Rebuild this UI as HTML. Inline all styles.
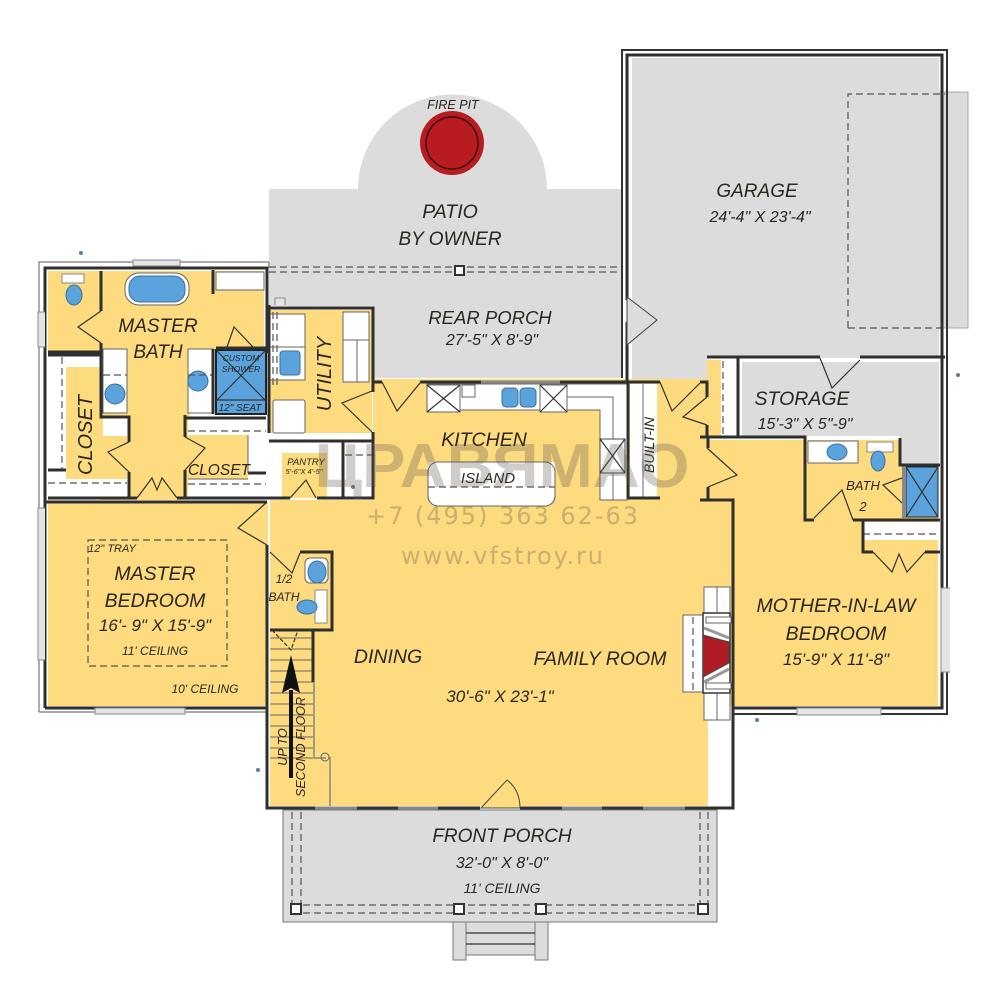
<!DOCTYPE html>
<html><head><meta charset="utf-8"><style>
html,body{margin:0;padding:0;background:#fff}
svg{display:block}
text{font-family:"Liberation Sans",sans-serif;font-style:italic;fill:#2a2620;text-anchor:middle}
.w{fill:none;stroke:#2f2f2f;stroke-width:3}
.t{fill:none;stroke:#333;stroke-width:1.2}
.g{fill:none;stroke:#666;stroke-width:1}
.d{fill:none;stroke:#555;stroke-width:1.2;stroke-dasharray:7 4}
.win{fill:#e4e4e4;stroke:#888;stroke-width:1}
.wh{fill:#fff;stroke:#666;stroke-width:1}
.b{fill:#5ba3dc;stroke:#3d6f9c;stroke-width:1}
.dr{fill:#fddb7e;stroke:#444;stroke-width:1}
</style></head><body>
<svg width="1004" height="1000" viewBox="0 0 1004 1000" xmlns="http://www.w3.org/2000/svg">
<rect width="1004" height="1000" fill="#fff"/>
<!-- gray areas -->
<path d="M269 189H358A94.5 94.5 0 0 1 547 189H622V378H373V306H269Z" fill="#dcdcdc"/>
<rect x="848" y="92" width="120" height="236" fill="#dcdcdc" stroke="#aaa"/>
<rect x="632" y="58" width="307" height="300" fill="#dcdcdc"/>
<rect x="632" y="58" width="75" height="322" fill="#dcdcdc"/>
<path d="M848 328V94H945M848 328H945" class="d"/>
<path d="M742 362H939V465H900V436H742Z" fill="#dcdcdc"/>
<rect x="283" y="810" width="434" height="112" fill="#dcdcdc" stroke="#777"/>
<rect x="453" y="922" width="13" height="38" fill="#dcdcdc" stroke="#777"/>
<rect x="535" y="922" width="13" height="38" fill="#dcdcdc" stroke="#777"/>
<path d="M466 922H535V955H466Z" fill="#dcdcdc" stroke="#777"/>
<path d="M466 933H535M466 944H535" class="t"/>
<!-- yellow areas -->
<g fill="#fddb7e">
<rect x="48" y="271" width="216" height="80"/>
<rect x="100" y="300" width="90" height="200"/>
<rect x="48" y="502" width="220" height="204"/>
<rect x="270" y="310" width="102" height="123"/>
<rect x="270" y="500" width="460" height="220"/>
<rect x="270" y="720" width="438" height="86"/>
<rect x="373" y="379" width="334" height="125"/>
<rect x="706" y="440" width="194" height="266"/>
<rect x="735" y="500" width="203" height="206"/>
<rect x="808" y="463" width="94" height="55"/>
<rect x="707" y="360" width="14" height="77"/>
</g>
<!-- whites -->
<rect x="216" y="272" width="48" height="18" class="wh"/>
<rect x="48" y="356" width="52" height="142" fill="#fff"/>
<rect x="100" y="418" width="29" height="80" fill="#fff"/>
<path d="M66 367H100V417H127V479H66Z" fill="#fddb7e"/>
<rect x="103" y="349" width="24" height="64" class="wh"/>
<rect x="188" y="349" width="25" height="64" class="wh"/>
<rect x="103" y="418" width="25" height="18" fill="#fff"/>
<rect x="188" y="420" width="78" height="78" fill="#fff"/>
<rect x="188" y="435" width="60" height="44" fill="#fddb7e"/>
<path d="M129 442L108 452 129 472Z" fill="#fddb7e"/>
<rect x="270" y="441" width="103" height="57" fill="#fff"/>
<rect x="282" y="453" width="45" height="45" fill="#fddb7e"/>
<rect x="721" y="361" width="16" height="75" fill="#fff"/>
<path d="M427 384H627V500H600V410H427Z" class="wh"/>
<rect x="630" y="384" width="27" height="113" fill="#fff"/>
<rect x="708" y="720" width="24" height="86" fill="#fff"/>
<rect x="428" y="462" width="127" height="44" rx="10" fill="#fff" stroke="#666"/>
<rect x="428" y="462" width="127" height="16" fill="#fff" stroke="none"/>
<rect x="808" y="441" width="50" height="22" class="wh"/>
<rect x="863" y="522" width="75" height="18" fill="#fff"/>
<rect x="683" y="615" width="20" height="77" class="wh"/>
<rect x="704" y="587" width="26" height="26" class="wh"/>
<rect x="704" y="693" width="26" height="27" class="wh"/>
<rect x="703" y="613" width="27" height="80" fill="#fff" stroke="#333" stroke-width="1.5"/>
<rect x="706" y="617" width="25" height="6" class="wh" stroke="#333"/>
<rect x="706" y="683" width="25" height="6" class="wh" stroke="#333"/>
<path d="M703 635L729 642V663L703 677Z" fill="#b01c24" stroke="#444"/>
<path d="M704 628L729 638M704 682L729 669" stroke="#999" stroke-width="3" fill="none"/>
<path d="M717 587V613M717 693V720" class="g"/>
<path d="M693 617V690" class="d"/>
<rect x="270" y="314" width="35" height="33" class="wh"/>
<rect x="270" y="347" width="35" height="33" class="wh"/>
<rect x="280" y="351" width="20" height="24" rx="3" class="b"/>
<rect x="273" y="400" width="32" height="33" rx="2" class="wh"/>
<rect x="343" y="312" width="26" height="70" class="wh"/>
<path d="M343 340H369M357 340V382" class="g"/>
<path d="M273 312V386M277 312V386" class="d"/>
<!-- fixtures -->
<rect x="125" y="273" width="64" height="32" rx="14" class="wh"/>
<rect x="129" y="276" width="56" height="26" rx="11" class="b"/>
<rect x="62" y="274" width="22" height="9" fill="#fff" stroke="#888"/>
<ellipse cx="74" cy="295" rx="8" ry="10" class="b"/>
<circle cx="115" cy="394" r="10" class="b"/><circle cx="198" cy="381" r="10" class="b"/>
<path d="M103 375H127M188 375H212" class="d"/>
<rect x="216" y="350" width="50" height="64" fill="#5ba3dc" stroke="#222" stroke-width="2"/>
<path d="M217 351L265 400M265 351L217 400M216 400H266" class="t"/>
<rect x="502" y="388" width="16" height="19" rx="4" class="b"/><rect x="520" y="388" width="16" height="19" rx="4" class="b"/>
<rect x="427" y="385" width="33" height="27" class="wh"/><path d="M427 385L460 412M460 385L427 412" class="t"/>
<rect x="540" y="385" width="27" height="27" class="wh"/><path d="M540 385L567 412M567 385L540 412" class="t"/>
<rect x="462" y="385" width="13" height="12" class="wh"/>
<path d="M567 397H613V500" class="g"/>
<rect x="600" y="439" width="25" height="34" fill="#fff" stroke="#444"/><path d="M600 439L625 473M625 439L600 473" class="t"/>
<path d="M643 384V497" class="g"/>
<rect x="428" y="462" width="127" height="44" rx="10" fill="none" stroke="#666"/>
<path d="M428 487H555" class="d" stroke-width="1.5"/>
<path d="M62 357V470M48 483H127M188 431H266M188 484H266M345 455H372" class="d"/>
<circle cx="353" cy="487" r="2" fill="#5a7f9c"/>
<path d="M48 470H66M248 473H266" class="w"/>
<path d="M248 435V473M248 479H188" class="g"/>
<ellipse cx="837" cy="452" rx="10" ry="8" class="b"/>
<rect x="867" y="442" width="26" height="10" fill="#fff" stroke="#888"/>
<ellipse cx="878" cy="461" rx="7" ry="10" class="b"/>
<rect x="906" y="467" width="32" height="50" fill="#5ba3dc" stroke="#222"/>
<path d="M906 467L938 517M938 467L906 517" class="t"/>
<rect x="902" y="466" width="4" height="52" fill="#888"/>
<path d="M863 534H938M723 361V436" class="d"/>
<rect x="305" y="558" width="23" height="25" rx="5" class="wh"/>
<ellipse cx="317" cy="572" rx="9" ry="11" class="b"/>
<rect x="315" y="590" width="12" height="33" fill="#fff" stroke="#888"/>
<ellipse cx="307" cy="607" rx="10" ry="7" class="b"/>
<!-- fire pit -->
<circle cx="452" cy="143" r="32" fill="#b81c20"/>
<circle cx="452" cy="143" r="26" fill="#b81c20" stroke="#3a1010" stroke-width="1.5"/>
<!-- stairs -->
<path d="M270 638H313M270 649H313M270 660H313M270 671H313M270 682H313M270 693H313M270 704H313M270 715H313M270 726H313M270 737H313M270 748H313M270 758H313" class="g"/>
<path d="M314 682V758H326M330 757V806" stroke="#7d8a7d" stroke-width="1.5" fill="none"/>
<circle cx="325" cy="757" r="4" fill="none" stroke="#666"/>
<path d="M291 778V690" stroke="#111" stroke-width="4"/>
<path d="M291 655L300 693 291 688 282 693Z" fill="#111"/>
<path d="M272 630L291 650 298 630" class="t" stroke-dasharray="4 2"/>
<!-- dashed -->
<path d="M269 267H622M269 272H622" class="d"/>
<path d="M292 812V905M301 812V905M700 812V905M708 812V905M292 905H708M292 913H708" class="d"/>
<g fill="#fff" stroke="#333" stroke-width="2">
<rect x="291" y="904" width="10" height="10"/><rect x="454" y="904" width="10" height="10"/><rect x="536" y="904" width="10" height="10"/><rect x="698" y="904" width="10" height="10"/>
<rect x="455" y="266" width="9" height="9"/>
</g>
<rect x="88" y="540" width="139" height="126" class="d"/>
<!-- outer walls -->
<path d="M39 712V262H269M269 262V268M39 712H268" fill="none" stroke="#777" stroke-width="1.2"/>
<path d="M45 708V268H267V353M45 708H267V545M267 502H45" class="w"/>
<path d="M622 378V50H947V714H733" fill="none" stroke="#333" stroke-width="2"/>
<path d="M627 300V55H942V708H733" class="w"/>
<path d="M627 322V382" class="w"/>
<path d="M267 545V808H315M357 808H398M438 808H480M520 808H562M602 808H643M685 808H733V500H700" class="w"/>
<path d="M269 308H373V392M373 432V441H269M269 305V433" class="w"/>
<path d="M373 378V392M382 382H373M420 382H481M560 382H660M700 382H707V397M707 425V437M700 437H805V520H814M853 520H940M863 520V552H873M925 552H940M708 448V437M708 487V500" class="w"/>
<path d="M707 357H820M860 357H945M738 357V436M900 438V465H940" class="w"/>
<path d="M628 382V498M627 498H660" class="w"/>
<path d="M101 271V311M101 343V417H129V442M129 472V498M48 352H101M48 355H100M213 270V294M213 349V414M216 348H266M185 415V437M185 470V498M185 418H266M48 498H137M177 498H290M317 498H373V441M343 441V498M313 630V682M270 630H332V552H300" class="w"/>
<path d="M45 312H38V347H45M45 508H38V660H45M950 588H941V672H950" class="win"/>
<path d="M133 266V260H180V266Z M797 708V715H881V708Z M95 708V714H185V708Z M285 305V298H275V305" class="win"/>
<path d="M315 808H357M398 808H438M562 808H602M643 808H685M481 382H560" stroke="#888" stroke-width="3" fill="none"/>
<!-- doors -->
<path d="M627 297L657 320 627 345Z" fill="#dcdcdc" stroke="#444"/>
<path d="M481 808L507 780Q520 790 520 808Z" class="dr"/>
<g class="t">
<path d="M101 311L78 327 101 343M137 498L152 478 157 490 162 478 177 498M129 442L108 452 129 472M185 437L205 448 185 470M227 347L234 327 253 347M290 498L306 480 316 498M372 391L342 403 372 432M382 382L397 411 420 383M660 382L672 411 700 383M707 397L683 417 707 425M707 448L737 475 708 487M820 358L832 388 860 360M902 478L883 485 902 503M814 518L842 490 853 520M873 552L892 572 899 554 907 572 925 552M270 552L292 573 300 553M267 502L238 528 267 545"/>
</g>
<!-- utility circles -->
<g fill="#5a7f9c"><circle cx="81" cy="253" r="2"/><circle cx="958" cy="375" r="2"/><circle cx="757" cy="720" r="2"/><circle cx="258" cy="770" r="2"/></g>
<!-- labels -->
<g>
<text x="453" y="109" font-size="12.5">FIRE PIT</text>
<text x="450" y="218" font-size="19.5">PATIO</text>
<text x="450" y="245" font-size="19">BY OWNER</text>
<text x="757" y="197" font-size="19">GARAGE</text>
<text x="760" y="222" font-size="16">24'-4" X 23'-4"</text>
<text x="490" y="324" font-size="18.5">REAR PORCH</text>
<text x="492" y="345" font-size="16">27'-5" X 8'-9"</text>
<text x="158" y="332" font-size="19">MASTER</text>
<text x="158" y="358" font-size="19">BATH</text>
<text x="241" y="361" font-size="8.5">CUSTOM</text>
<text x="241" y="372" font-size="8.5">SHOWER</text>
<text x="240" y="411" font-size="10">12" SEAT</text>
<text transform="translate(92,435) rotate(-90)" font-size="20">CLOSET</text>
<text x="219" y="475" font-size="15.5">CLOSET</text>
<text transform="translate(331,374) rotate(-90)" font-size="20">UTILITY</text>
<text x="306" y="465" font-size="9.5">PANTRY</text>
<text x="304" y="474" font-size="7.5">5'-6"X 4'-5"</text>
<text x="484" y="446" font-size="19.5">KITCHEN</text>
<text x="488" y="483" font-size="15">ISLAND</text>
<text transform="translate(654,445) rotate(-90)" font-size="14">BUILT-IN</text>
<text x="802" y="405" font-size="19.5">STORAGE</text>
<text x="805" y="429" font-size="16">15'-3" X 5"-9"</text>
<text x="863" y="490" font-size="13">BATH</text>
<text x="863" y="511" font-size="13">2</text>
<text x="836" y="612" font-size="19.5">MOTHER-IN-LAW</text>
<text x="836" y="640" font-size="19.5">BEDROOM</text>
<text x="836" y="665" font-size="17">15'-9" X 11'-8"</text>
<text x="155" y="580" font-size="19.5">MASTER</text>
<text x="155" y="607" font-size="19.5">BEDROOM</text>
<text x="155" y="631" font-size="17">16'- 9" X 15'-9"</text>
<text x="112" y="552" font-size="11">12" TRAY</text>
<text x="155" y="655" font-size="12">11' CEILING</text>
<text x="205" y="693" font-size="12">10' CEILING</text>
<text x="388" y="663" font-size="19.5">DINING</text>
<text x="600" y="665" font-size="19.5">FAMILY ROOM</text>
<text x="500" y="702" font-size="17">30'-6" X 23'-1"</text>
<text x="284" y="583" font-size="12">1/2</text>
<text x="284" y="601" font-size="12">BATH</text>
<text transform="translate(287,747) rotate(-90)" font-size="12.5">UP TO</text>
<text transform="translate(305,747) rotate(-90)" font-size="12.5">SECOND FLOOR</text>
<text x="502" y="842" font-size="19">FRONT  PORCH</text>
<text x="502" y="868" font-size="16">32'-0" X 8'-0"</text>
<text x="502" y="893" font-size="14">11' CEILING</text>
</g>
<!-- watermark -->
<text x="502" y="487" font-size="62" textLength="375" lengthAdjust="spacingAndGlyphs" style="font-style:normal;font-weight:bold;fill:rgba(95,85,75,.3)">ЦРАВЯМАО</text>
<text x="502" y="524" font-size="24" textLength="272" style="font-family:'DejaVu Sans',sans-serif;font-style:normal;fill:rgba(130,115,90,.42)">+7 (495) 363 62-63</text>
<text x="502" y="564" font-size="24" textLength="202" style="font-family:'DejaVu Sans',sans-serif;font-style:normal;fill:rgba(130,115,90,.42)">www.vfstroy.ru</text>
</svg>
</body></html>
